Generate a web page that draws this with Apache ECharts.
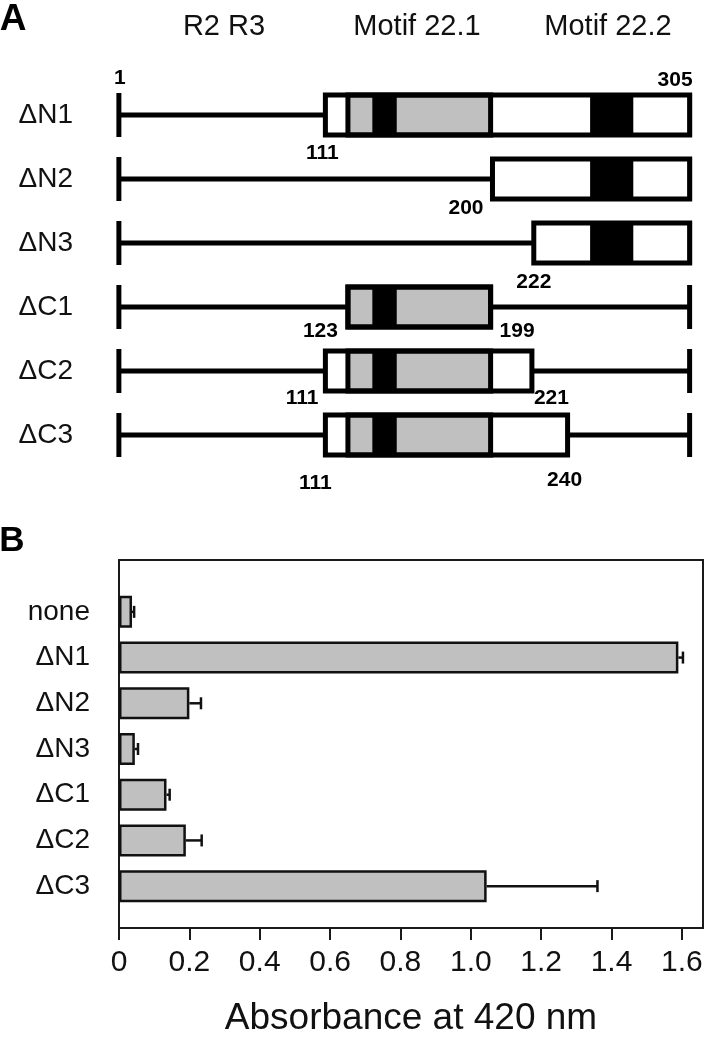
<!DOCTYPE html>
<html><head><meta charset="utf-8">
<script src="https://cdn.jsdelivr.net/npm/echarts@6/dist/echarts.min.js"></script>
<style>html,body{margin:0;padding:0;background:#fff}#c{width:713px;height:1040px}</style>
</head><body><div id="c"></div>
<script>
// ---------------- Data ----------------
// Panel A: deletion constructs (residue numbers)
const constructs = ['ΔN1', 'ΔN2', 'ΔN3', 'ΔC1', 'ΔC2', 'ΔC3'];
const constructStart = [111, 200, 222, 123, 111, 111];
const constructEnd = [305, 305, 305, 199, 221, 240];
const fullLength = [1, 305];
const motif221Region = [123, 199];   // grey region (Motif 22.1)
const motif221Core = [136, 149];     // black band inside Motif 22.1
const motif222Core = [252, 275];     // black band (Motif 22.2)
const headers = ['R2 R3', 'Motif 22.1', 'Motif 22.2'];

// Panel B: absorbance at 420 nm
const barCategories = ['none', 'ΔN1', 'ΔN2', 'ΔN3', 'ΔC1', 'ΔC2', 'ΔC3'];
const absorbance = [0.037, 1.59, 0.20, 0.045, 0.135, 0.19, 1.045];
const absorbanceErr = [0.006, 0.013, 0.033, 0.009, 0.009, 0.045, 0.315];
const xTicks = [0, 0.2, 0.4, 0.6, 0.8, 1.0, 1.2, 1.4, 1.6];

// ---------------- Layout / style ----------------
const FONT = '"Liberation Sans", Arial, sans-serif';
const NUMFONT = '"Liberation Sans Narrow", "Arial Narrow", "Liberation Sans", sans-serif';
// which residue numbers are written next to each construct and where
const residueLabelLayout = [
  [{ k: 'fullStart', align: 'center', dx: 1, dy: -37 }, { k: 'fullEnd', align: 'right', dx: 3, dy: -35 }, { k: 'start', align: 'center', dx: -3, dy: 38 }],
  [{ k: 'start', align: 'right', dx: -9, dy: 29 }],
  [{ k: 'start', align: 'center', dx: 0, dy: 39 }],
  [{ k: 'start', align: 'right', dx: -10, dy: 24 }, { k: 'end', align: 'left', dx: 9, dy: 24 }],
  [{ k: 'start', align: 'right', dx: -7, dy: 27 }, { k: 'end', align: 'left', dx: 2, dy: 27 }],
  [{ k: 'start', align: 'center', dx: -10, dy: 48 }, { k: 'end', align: 'center', dx: -3, dy: 45 }]
];
const headerX = [224, 417, 608];

const chart = echarts.init(document.getElementById('c'), null, { renderer: 'canvas' });

function renderConstruct(params, api) {
  const i = api.value(0);
  const s = api.value(1), e = api.value(2);
  const yc = api.coord([0, i])[1];
  const X = r => api.coord([r, i])[0];
  const H = 40, LW = 5;
  const ch = [];
  ch.push({ type: 'line', shape: { x1: X(fullLength[0]), y1: yc, x2: X(fullLength[1]), y2: yc }, style: { stroke: '#000', lineWidth: LW } });
  fullLength.forEach(r => ch.push({ type: 'line', shape: { x1: X(r), y1: yc - 22, x2: X(r), y2: yc + 22 }, style: { stroke: '#000', lineWidth: LW } }));
  ch.push({ type: 'rect', shape: { x: X(s), y: yc - H / 2, width: X(e) - X(s), height: H }, style: { fill: '#fff' } });
  const clip = ab => [Math.max(ab[0], s), Math.min(ab[1], e)];
  let g = clip(motif221Region);
  if (g[1] > g[0]) ch.push({ type: 'rect', shape: { x: X(g[0]), y: yc - H / 2, width: X(g[1]) - X(g[0]), height: H }, style: { fill: '#c0c0c0', stroke: '#000', lineWidth: LW } });
  [motif221Core, motif222Core].forEach(m => {
    const c = clip(m);
    if (c[1] > c[0]) ch.push({ type: 'rect', shape: { x: X(c[0]), y: yc - H / 2, width: X(c[1]) - X(c[0]), height: H }, style: { fill: '#000' } });
  });
  ch.push({ type: 'rect', shape: { x: X(s), y: yc - H / 2, width: X(e) - X(s), height: H }, style: { fill: null, stroke: '#000', lineWidth: LW } });
  const vals = { fullStart: fullLength[0], fullEnd: fullLength[1], start: s, end: e };
  (residueLabelLayout[i] || []).forEach(L => {
    const v = vals[L.k];
    ch.push({ type: 'text', x: X(v) + L.dx, y: yc + L.dy, style: { text: String(v), fontSize: 21, fontWeight: 'bold', fontFamily: NUMFONT, fill: '#000', align: L.align, verticalAlign: 'middle' } });
  });
  return { type: 'group', children: ch };
}

function renderErr(params, api) {
  const v = api.value(0), i = api.value(1), e = api.value(2);
  const p1 = api.coord([v, i]), p2 = api.coord([v + e, i]);
  return { type: 'group', children: [
    { type: 'line', shape: { x1: p1[0], y1: p1[1], x2: p2[0], y2: p2[1] }, style: { stroke: '#111', lineWidth: 2.5 } },
    { type: 'line', shape: { x1: p2[0], y1: p1[1] - 6, x2: p2[0], y2: p1[1] + 6 }, style: { stroke: '#111', lineWidth: 2.5 } }
  ] };
}

const option = {
  animation: false,
  backgroundColor: '#fff',
  graphic: [
    { type: 'text', x: 13, y: 20, style: { text: 'A', fontSize: 37, fontWeight: 'bold', fontFamily: FONT, fill: '#000', align: 'center', verticalAlign: 'middle' } },
    { type: 'text', x: 12, y: 541, style: { text: 'B', fontSize: 35, fontWeight: 'bold', fontFamily: FONT, fill: '#000', align: 'center', verticalAlign: 'middle' } }
  ].concat(headers.map((h, k) => ({ type: 'text', x: headerX[k], y: 27, style: { text: h, fontSize: 29, fontFamily: FONT, fill: '#111', align: 'center', verticalAlign: 'middle' } }))),
  grid: [
    { left: 117, right: 14, top: 83, height: 384 },
    { left: 119, right: 10, top: 589, height: 320 },
    { left: 119, right: 10, top: 560, bottom: 112, show: true, borderColor: '#1a1a1a', borderWidth: 2, backgroundColor: 'transparent' }
  ],
  xAxis: [
    { gridIndex: 0, type: 'value', min: 0, max: 310, show: false },
    { gridIndex: 1, type: 'value', min: 0, max: 1.66, show: false },
    { gridIndex: 2, type: 'value', min: 0, max: 1.66, interval: 0.2,
      axisLine: { show: true, lineStyle: { color: '#1a1a1a', width: 2 } },
      splitLine: { show: false },
      axisTick: { show: true, length: 12, customValues: xTicks, lineStyle: { color: '#1a1a1a', width: 2 } },
      axisLabel: { customValues: xTicks, formatter: v => (v === 0 ? '0' : v.toFixed(1)), fontSize: 30, margin: 20, color: '#111', fontFamily: FONT },
      name: 'Absorbance at 420 nm', nameLocation: 'middle', nameGap: 72,
      nameTextStyle: { fontSize: 37, color: '#111', fontFamily: FONT } }
  ],
  yAxis: [
    { gridIndex: 0, type: 'category', data: constructs, inverse: true, axisLine: { show: false }, axisTick: { show: false }, splitLine: { show: false },
      axisLabel: { fontSize: 28, color: '#111', margin: 44, fontFamily: FONT } },
    { gridIndex: 1, type: 'category', data: barCategories, inverse: true, axisLine: { show: false }, axisTick: { show: false }, splitLine: { show: false },
      axisLabel: { fontSize: 28, color: '#111', margin: 29, fontFamily: FONT } },
    { gridIndex: 2, type: 'value', min: 0, max: 1, show: false }
  ],
  series: [
    { type: 'custom', xAxisIndex: 0, yAxisIndex: 0, clip: false, renderItem: renderConstruct,
      encode: { x: [1, 2], y: 0 },
      data: constructs.map((c, i) => [i, constructStart[i], constructEnd[i]]) },
    { type: 'bar', xAxisIndex: 1, yAxisIndex: 1, data: absorbance, barWidth: 32,
      itemStyle: { color: '#c0c0c0', borderColor: '#111', borderWidth: 2.5 } },
    { type: 'custom', xAxisIndex: 1, yAxisIndex: 1, clip: false, renderItem: renderErr,
      encode: { x: 0, y: 1 },
      data: barCategories.map((c, i) => [absorbance[i], i, absorbanceErr[i]]) }
  ]
};
chart.setOption(option);
</script>
</body></html>
